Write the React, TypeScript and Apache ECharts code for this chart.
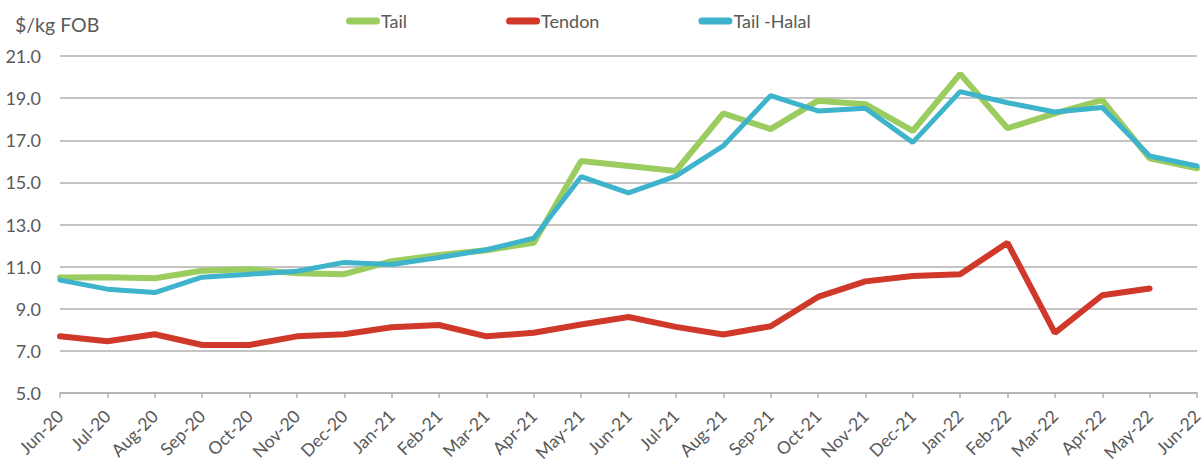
import React, { useEffect, useRef } from "react";
import * as echarts from "echarts";

const categories = [
  "Jun-20", "Jul-20", "Aug-20", "Sep-20", "Oct-20", "Nov-20", "Dec-20",
  "Jan-21", "Feb-21", "Mar-21", "Apr-21", "May-21", "Jun-21", "Jul-21",
  "Aug-21", "Sep-21", "Oct-21", "Nov-21", "Dec-21", "Jan-22", "Feb-22",
  "Mar-22", "Apr-22", "May-22", "Jun-22",
];

const tail = [
  10.48, 10.5, 10.45, 10.8, 10.88, 10.68, 10.64, 11.26, 11.55, 11.78, 12.13,
  16.01, 15.78, 15.54, 18.28, 17.53, 18.88, 18.71, 17.44, 20.15, 17.57,
  18.28, 18.91, 16.14, 15.67,
];

const tendon: (number | null)[] = [
  7.69, 7.46, 7.79, 7.28, 7.28, 7.69, 7.79, 8.12, 8.23, 7.69, 7.86, 8.25,
  8.61, 8.14, 7.78, 8.17, 9.56, 10.3, 10.55, 10.64, 12.13, 7.85, 9.64, 9.96,
  null,
];

const tailHalal = [
  10.36, 9.93, 9.77, 10.5, 10.64, 10.78, 11.2, 11.1, 11.43, 11.8, 12.35,
  15.27, 14.5, 15.3, 16.73, 19.12, 18.39, 18.52, 16.9, 19.31, 18.78, 18.34,
  18.56, 16.25, 15.78,
];

const FONT = "Lato";
const TEXT_COLOR = "#595959";
const ICON = "path://M3.5,0 H30.5 A3.5,3.5 0 0 1 30.5,7 H3.5 A3.5,3.5 0 0 1 3.5,0 Z";

export default function App() {
  const ref = useRef<HTMLDivElement>(null);
  useEffect(() => {
    if (!ref.current) return;
    const chart = echarts.init(ref.current, null, { renderer: "svg" });
    chart.setOption({
      animation: false,
      backgroundColor: "#ffffff",
      textStyle: { fontFamily: FONT },
      graphic: [
        {
          type: "text",
          left: 15,
          top: 14,
          style: { text: "$/kg FOB", fontFamily: FONT, fontSize: 19.5, fill: TEXT_COLOR },
        },
      ],
      legend: {
        left: 346,
        top: 12,
        padding: 0,
        itemGap: 99,
        itemWidth: 34,
        itemHeight: 7,
        icon: ICON,
        textStyle: { fontFamily: FONT, fontSize: 18, color: TEXT_COLOR, padding: [0, 0, 0, -4] },
        data: ["Tail", "Tendon", "Tail -Halal"],
      },
      grid: {
        left: 60,
        right: 7,
        top: 56,
        bottom: 71,
        containLabel: false,
        outerBoundsMode: "none",
      },
      xAxis: {
        type: "category",
        data: categories,
        boundaryGap: false,
        axisLine: { lineStyle: { color: "#b0b0b0", width: 1.5 } },
        axisTick: { show: true, length: 5, alignWithLabel: true, lineStyle: { color: "#b0b0b0", width: 1.5 } },
        axisLabel: {
          rotate: 45,
          interval: 0,
          margin: 20,
          align: "right",
          verticalAlign: "middle",
          hideOverlap: false,
          fontFamily: FONT,
          fontSize: 17.5,
          color: TEXT_COLOR,
        },
        splitLine: { show: false },
      },
      yAxis: {
        type: "value",
        min: 5,
        max: 21,
        interval: 2,
        axisLine: { show: false },
        axisTick: { show: false },
        axisLabel: {
          margin: 19,
          fontFamily: FONT,
          fontSize: 18,
          color: TEXT_COLOR,
          formatter: (v: number) => v.toFixed(1),
        },
        splitLine: { lineStyle: { color: "#b0b0b0", width: 1.5 } },
      },
      series: [
        {
          name: "Tail",
          type: "line",
          data: tail,
          symbol: "none",
          color: "#9BCC5F",
          lineStyle: { width: 6, color: "#9BCC5F", cap: "round" },
        },
        {
          name: "Tendon",
          type: "line",
          data: tendon,
          symbol: "none",
          color: "#D0392A",
          lineStyle: { width: 6, color: "#D0392A", cap: "round" },
        },
        {
          name: "Tail -Halal",
          type: "line",
          data: tailHalal,
          symbol: "none",
          color: "#3EB3CC",
          lineStyle: { width: 5, color: "#3EB3CC", cap: "round" },
        },
      ],
    });
    return () => chart.dispose();
  }, []);
  return (
    <div
      ref={ref}
      style={{ position: "absolute", left: 0, top: 0, width: 1204, height: 464 }}
    />
  );
}
